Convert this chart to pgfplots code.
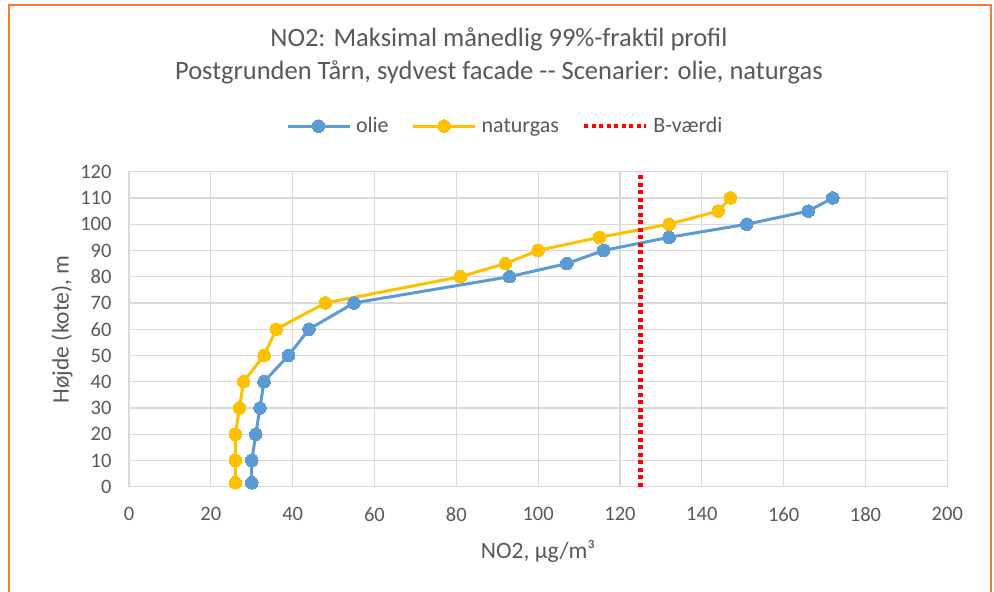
\documentclass[border=0pt]{standalone}
\usepackage{pgfplots}
\pgfplotsset{compat=1.18}
\usepackage{fontspec}
\setmainfont{Carlito}
\definecolor{oliec}{HTML}{5B9BD5}
\definecolor{gasc}{HTML}{FFC000}
\definecolor{txt}{HTML}{595959}
\definecolor{gridc}{HTML}{D9D9D9}
\definecolor{framec}{HTML}{ED7D31}
\begin{document}
\begin{tikzpicture}[x=1pt,y=1pt]
\useasboundingbox (0,0) rectangle (994,592);
\clip (0,0) rectangle (994,592);
\fill[white] (0,0) rectangle (994,592);
\draw[framec, line width=1.3pt] (9,-20) rectangle (991,587);
\begin{axis}[
  at={(129pt,105.3pt)}, anchor=south west,
  scale only axis, width=818.3pt, height=315pt,
  xmin=0, xmax=200, ymin=0, ymax=120,
  xtick={0,20,...,200}, ytick={0,10,...,120},
  grid=major, major grid style={gridc, line width=1.3pt},
  axis line style={gridc, line width=1.3pt},
  major tick length=0pt,
  tick label style={font=\fontsize{20.5}{24}\selectfont, text=txt},
  /pgf/number format/assume math mode=true,
  xticklabel style={yshift=-17pt},
  yticklabel style={xshift=-14pt},
  xlabel={NO2, µg/m³},
  ylabel={Højde (kote), m},
  label style={font=\fontsize{23.5}{28}\selectfont, text=txt},
  xlabel style={at={(axis description cs:0.5,-0.207)}, anchor=center},
  ylabel style={at={(axis description cs:-0.0819,0.5)}, anchor=center},
  title={NO2: Maksimal månedlig 99\%-fraktil profil\\Postgrunden Tårn, sydvest facade -{}- Scenarier: olie, naturgas},
  title style={at={(axis description cs:0.452,1.349)}, anchor=center, align=center, font=\fontsize{26.5}{32.7}\selectfont, text=txt},
  legend columns=3,
  legend style={at={(axis description cs:0.458,1.145)}, anchor=center, draw=none, fill=none,
    font=\fontsize{22}{26}\selectfont, text=txt,
    /tikz/every even column/.append style={column sep=18pt}},
  legend image code/.code={\path (-3pt,0pt) (65pt,0pt);\draw[mark repeat=2,mark phase=2,#1] plot coordinates {(0pt,0pt)(31pt,0pt)(62pt,0pt)};},
]
\addplot[oliec, line width=3pt, mark=*, mark size=6.3pt, mark options={solid, fill=oliec, draw=oliec, line width=0pt}]
  coordinates {(30,1.5)(30,10)(31,20)(32,30)(33,40)(39,50)(44,60)(55,70)(93,80)(107,85)(116,90)(132,95)(151,100)(166,105)(172,110)};
\addlegendentry{olie}
\addplot[gasc, line width=3pt, mark=*, mark size=6.3pt, mark options={solid, fill=gasc, draw=gasc, line width=0pt}]
  coordinates {(26,1.5)(26,10)(26,20)(27,30)(28,40)(33,50)(36,60)(48,70)(81,80)(92,85)(100,90)(115,95)(132,100)(144,105)(147,110)};
\addlegendentry{naturgas}
\addplot[red, line width=4.5pt, dash pattern=on 4pt off 3.5pt, mark=none]
  coordinates {(125,0)(125,120)};
\addlegendentry{B-værdi}
\end{axis}
\end{tikzpicture}
\end{document}
